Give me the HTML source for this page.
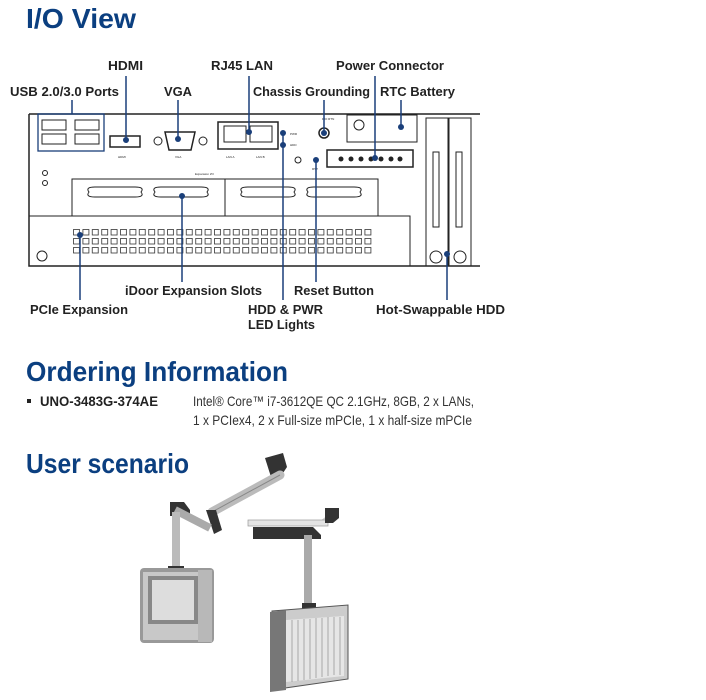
<!DOCTYPE html>
<html><head><meta charset="utf-8"><style>
html,body{margin:0;padding:0;background:#fff;}
svg{display:block;}
.h{font-family:"Liberation Sans",sans-serif;font-weight:bold;fill:#0b3f80;}
.l{font-family:"Liberation Sans",sans-serif;font-weight:bold;font-size:13px;fill:#222;}
.s{font-family:"Liberation Sans",sans-serif;font-size:3px;fill:#222;}
.ln{stroke:#1a3f7a;stroke-width:1.5;fill:none;}
.k{stroke:#222;stroke-width:1;fill:none;}
</style></head><body>
<svg width="706" height="700" viewBox="0 0 706 700" xmlns="http://www.w3.org/2000/svg">
<text class="h" x="26" y="28" font-size="28" textLength="110" lengthAdjust="spacingAndGlyphs">I/O View</text>

<!-- top labels -->
<text class="l" x="108" y="70" textLength="35" lengthAdjust="spacingAndGlyphs">HDMI</text>
<text class="l" x="211" y="70" textLength="62" lengthAdjust="spacingAndGlyphs">RJ45 LAN</text>
<text class="l" x="336" y="70" textLength="108" lengthAdjust="spacingAndGlyphs">Power Connector</text>
<text class="l" x="10" y="96" textLength="109" lengthAdjust="spacingAndGlyphs">USB 2.0/3.0 Ports</text>
<text class="l" x="164" y="96" textLength="28" lengthAdjust="spacingAndGlyphs">VGA</text>
<text class="l" x="253" y="96" textLength="117" lengthAdjust="spacingAndGlyphs">Chassis Grounding</text>
<text class="l" x="380" y="96" textLength="75" lengthAdjust="spacingAndGlyphs">RTC Battery</text>

<!-- chassis -->
<g class="k">
<path d="M29 114 H480" stroke-width="1.5"/>
<path d="M29 114 V266 H480" stroke-width="1.5"/>
<rect x="72" y="179" width="153" height="37"/>
<rect x="225" y="179" width="153" height="37"/>
<rect x="29" y="216" width="381" height="50"/>
<rect x="218" y="122" width="60" height="27" stroke-width="1.5"/>
<rect x="224" y="126" width="22" height="16"/>
<rect x="250" y="126" width="22" height="16"/>
<rect x="347" y="115" width="70" height="27"/>
<rect x="327" y="150" width="86" height="17" stroke-width="1.5"/>
<rect x="426" y="118" width="22" height="148"/>
<rect x="449" y="118" width="22" height="148"/>
<rect x="433" y="152" width="6" height="75"/>
<rect x="456" y="152" width="6" height="75"/>
<rect x="110" y="136" width="30" height="11" stroke-width="1.5"/>
<path d="M165 132 h30 l-4 18 h-22 z" stroke-width="1.5"/>
<circle cx="158" cy="141" r="4"/><circle cx="203" cy="141" r="4"/>
<circle cx="324" cy="133" r="5" stroke-width="1.5"/>
<circle cx="298" cy="160" r="3"/>
<circle cx="359" cy="125" r="5"/>
<circle cx="45" cy="173" r="2.5"/><circle cx="45" cy="183" r="2.5"/>
<rect x="42" y="120" width="24" height="10"/><rect x="75" y="120" width="24" height="10"/>
<rect x="42" y="134" width="24" height="10"/><rect x="75" y="134" width="24" height="10"/>
<path d="M89 192 q-4 -5 6 -5 h40 q10 0 6 5 q4 5 -6 5 h-40 q-10 0 -6 -5z"/>
<path d="M155 192 q-4 -5 6 -5 h40 q10 0 6 5 q4 5 -6 5 h-40 q-10 0 -6 -5z"/>
<path d="M242 192 q-4 -5 6 -5 h40 q10 0 6 5 q4 5 -6 5 h-40 q-10 0 -6 -5z"/>
<path d="M308 192 q-4 -5 6 -5 h40 q10 0 6 5 q4 5 -6 5 h-40 q-10 0 -6 -5z"/>
<circle cx="42" cy="256" r="5"/><circle cx="436" cy="257" r="6"/><circle cx="460" cy="257" r="6"/>
</g>
<rect x="38" y="114" width="66" height="37" fill="none" stroke="#1a3f7a" stroke-width="1.3"/>
<!-- vent grid -->
<g fill="none" stroke="#333" stroke-width="0.8">
<pattern id="vg" x="73" y="229" width="9.4" height="9" patternUnits="userSpaceOnUse"><rect x="0.5" y="0.5" width="6" height="5.5" fill="none" stroke="#333" stroke-width="0.8"/></pattern>
</g>
<rect x="73" y="229" width="300" height="27" fill="url(#vg)"/>
<g fill="#222">
<circle cx="341" cy="159" r="2.5"/><circle cx="351" cy="159" r="2.5"/><circle cx="361" cy="159" r="2.5"/><circle cx="371" cy="159" r="2.5"/><circle cx="381" cy="159" r="2.5"/><circle cx="391" cy="159" r="2.5"/><circle cx="400" cy="159" r="2.5"/>
</g>
<text class="s" x="118" y="158">HDMI</text><text class="s" x="175" y="158">VGA</text>
<text class="s" x="226" y="158">LAN A</text><text class="s" x="256" y="158">LAN B</text>
<text class="s" x="290" y="135">PWR</text><text class="s" x="290" y="146">HDD</text>
<text class="s" x="312" y="170">RST</text><text class="s" x="322" y="120">DIO RTN</text>
<text class="s" x="195" y="175">Expansion I/O</text>

<!-- leader lines -->
<g class="ln">
<path d="M72 100 V114"/><path d="M126 76 V140"/><path d="M178 100 V140"/><path d="M249 76 V132"/>
<path d="M283 133 V300"/><path d="M324 100 V133"/><path d="M375 76 V158"/><path d="M401 100 V127"/>
<path d="M80 235 V300"/><path d="M182 196 V282"/><path d="M316 160 V282"/><path d="M447 254 V300"/>
</g>
<g fill="#1a3f7a">
<circle cx="126" cy="140" r="3"/><circle cx="178" cy="139" r="3"/><circle cx="249" cy="132" r="3"/>
<circle cx="283" cy="133" r="3"/><circle cx="283" cy="145" r="3"/><circle cx="324" cy="133" r="3"/>
<circle cx="375" cy="158" r="3"/><circle cx="401" cy="127" r="3"/><circle cx="80" cy="235" r="3"/>
<circle cx="182" cy="196" r="3"/><circle cx="316" cy="160" r="3"/><circle cx="447" cy="254" r="3"/>
</g>

<!-- bottom labels -->
<text class="l" x="125" y="295" textLength="137" lengthAdjust="spacingAndGlyphs">iDoor Expansion Slots</text>
<text class="l" x="294" y="295" textLength="80" lengthAdjust="spacingAndGlyphs">Reset Button</text>
<text class="l" x="30" y="314" textLength="98" lengthAdjust="spacingAndGlyphs">PCIe Expansion</text>
<text class="l" x="248" y="314" textLength="75" lengthAdjust="spacingAndGlyphs">HDD &amp; PWR</text>
<text class="l" x="248" y="329" textLength="67" lengthAdjust="spacingAndGlyphs">LED Lights</text>
<text class="l" x="376" y="314" textLength="129" lengthAdjust="spacingAndGlyphs">Hot-Swappable HDD</text>

<text class="h" x="26" y="381" font-size="28" textLength="262" lengthAdjust="spacingAndGlyphs">Ordering Information</text>
<rect x="27" y="399" width="4" height="4" fill="#222"/>
<text x="40" y="406" font-family="Liberation Sans,sans-serif" font-weight="bold" font-size="14" fill="#222" textLength="118" lengthAdjust="spacingAndGlyphs">UNO-3483G-374AE</text>
<text x="193" y="406" font-family="Liberation Sans,sans-serif" font-size="14" fill="#333" textLength="281" lengthAdjust="spacingAndGlyphs">Intel® Core™ i7-3612QE QC 2.1GHz, 8GB, 2 x LANs,</text>
<text x="193" y="425" font-family="Liberation Sans,sans-serif" font-size="14" fill="#333" textLength="279" lengthAdjust="spacingAndGlyphs">1 x PCIex4, 2 x Full-size mPCIe, 1 x half-size mPCIe</text>

<text class="h" x="26" y="473" font-size="28" textLength="163" lengthAdjust="spacingAndGlyphs">User scenario</text>

<!-- scenario illustration -->
<g>
<path d="M265 458 l18 -5 l4 14 l-8 12 l-8 -2 z" fill="#333"/>
<path d="M212 512 L280 475" stroke="#bbb" stroke-width="9" stroke-linecap="round"/>
<path d="M212 512 L280 475" stroke="#888" stroke-width="1" fill="none"/>
<path d="M206 510 l10 0 l6 20 l-8 4 z" fill="#333"/>
<path d="M170 502 h14 l6 8 v6 h-20 z" fill="#333"/>
<path d="M175 510 L210 528" stroke="#aaa" stroke-width="8"/>
<rect x="172" y="512" width="8" height="68" fill="#bbb"/>
<rect x="168" y="566" width="16" height="10" fill="#333"/>
<rect x="140" y="568" width="74" height="75" rx="4" fill="#999"/>
<rect x="143" y="572" width="66" height="68" fill="#c8c8c8"/>
<rect x="148" y="576" width="50" height="48" fill="#888"/>
<rect x="152" y="580" width="42" height="40" fill="#ddd"/>
<rect x="198" y="570" width="14" height="72" fill="#b8b8b8"/>
<path d="M250 521 h70 l8 -6 v10 h-78 z" fill="#ccc"/>
<rect x="248" y="520" width="80" height="6" fill="#e4e4e4" stroke="#999" stroke-width="0.7"/>
<path d="M325 508 h14 v10 l-6 5 h-8 z" fill="#333"/>
<path d="M253 527 h60 l8 8 v4 h-68 z" fill="#333"/>
<rect x="304" y="535" width="8" height="70" fill="#aaa"/>
<rect x="302" y="603" width="14" height="8" fill="#333"/>
<path d="M272 611 l76 -6 v74 l-70 10 z" fill="#ccc" stroke="#555" stroke-width="1"/>
<path d="M286 620 l58 -4 v60 l-58 6 z" fill="#e6e6e6"/>
<g stroke="#999" stroke-width="0.8">
<path d="M292 620 v62 M298 620 v61 M304 619 v61 M310 619 v60 M316 618 v60 M322 618 v59 M328 617 v59 M334 617 v58 M340 617 v58"/>
</g>
<path d="M270 612 l16 -2 v80 l-16 2 z" fill="#777"/>
</g>
</svg>
</body></html>
